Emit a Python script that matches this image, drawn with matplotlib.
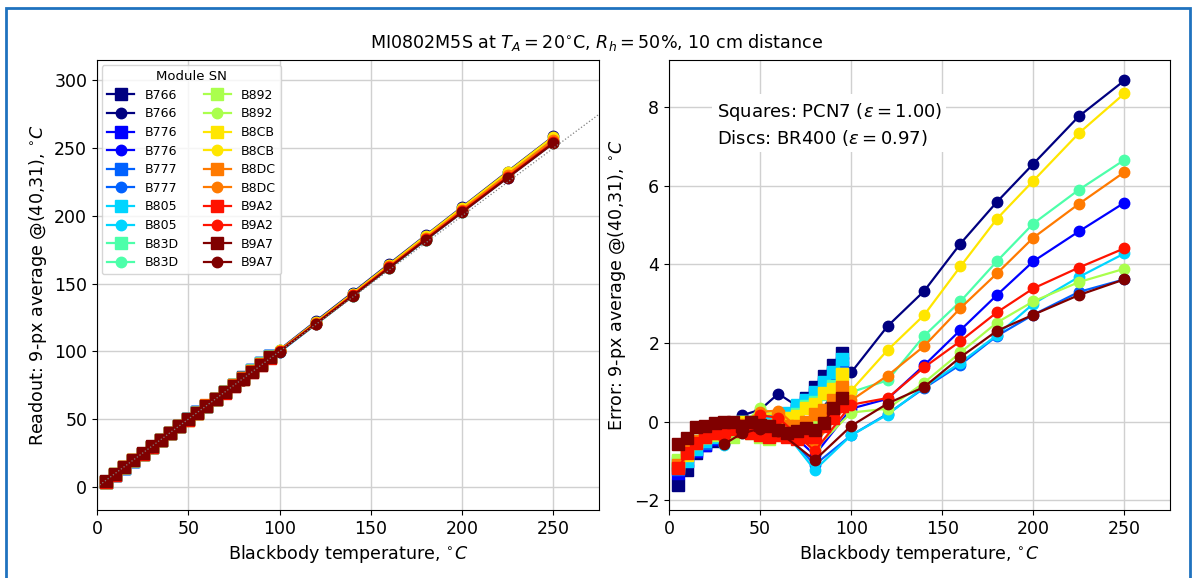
import numpy as np
import matplotlib
matplotlib.use('Agg')
from matplotlib import pyplot as plt
from matplotlib.patches import Rectangle

# module serial numbers
modules = ['B766', 'B776', 'B777', 'B805', 'B83D', 'B892', 'B8CB', 'B8DC', 'B9A2', 'B9A7']

# PCN7 target (squares) temperatures
t_sq = [5, 10, 15, 20, 25, 30, 35, 40, 45, 50, 55, 60, 65, 70, 75, 80, 85, 90, 95]
# BR400 target (discs) temperatures
t_disc = [30, 40, 50, 60, 80, 100, 120, 140, 160, 180, 200, 225, 250]

# errors (readout - blackbody), PCN7
err_sq_B766 = [-1.61, -1.22, -0.80, -0.59, -0.50, -0.35, -0.20, -0.10, 0.00, -0.05, 0.05, 0.10, 0.20, 0.35, 0.60, 0.89, 1.15, 1.45, 1.75]
err_sq_B776 = [-1.30, -1.00, -0.75, -0.60, -0.45, -0.35, -0.20, -0.10, -0.10, -0.15, 0.00, 0.00, 0.10, 0.30, 0.50, 0.70, 0.95, 1.20, 1.50]
err_sq_B777 = [-1.20, -0.90, -0.70, -0.55, -0.40, -0.30, -0.20, -0.10, -0.10, -0.10, 0.00, 0.00, 0.10, 0.30, 0.45, 0.60, 0.85, 1.10, 1.40]
err_sq_B805 = [-1.05, -1.00, -0.70, -0.50, -0.40, -0.30, -0.20, 0.00, -0.10, -0.10, 0.10, 0.05, 0.21, 0.42, 0.55, 0.76, 1.01, 1.27, 1.60]
err_sq_B83D = [-1.00, -0.75, -0.50, -0.40, -0.30, -0.20, -0.10, 0.00, -0.10, -0.20, -0.10, 0.00, 0.10, 0.20, 0.40, 0.50, 0.70, 0.90, 1.20]
err_sq_B892 = [-0.98, -0.70, -0.50, -0.40, -0.35, -0.30, -0.40, -0.20, -0.30, -0.40, -0.45, -0.35, -0.30, -0.20, -0.10, 0.00, 0.30, 0.50, 0.80]
err_sq_B8CB = [-1.15, -0.85, -0.55, -0.40, -0.30, -0.20, -0.15, 0.00, -0.10, -0.15, -0.10, 0.00, 0.10, 0.13, 0.34, 0.46, 0.72, 0.84, 1.22]
err_sq_B8DC = [-1.10, -0.75, -0.50, -0.35, -0.30, -0.20, -0.15, -0.10, -0.20, -0.25, -0.10, 0.13, -0.10, -0.10, 0.00, 0.20, 0.30, 0.55, 0.89]
err_sq_B9A2 = [-1.19, -0.80, -0.55, -0.38, -0.30, -0.25, -0.20, -0.25, -0.30, -0.35, -0.40, -0.35, -0.40, -0.45, -0.40, -0.40, -0.10, 0.10, 0.40]
err_sq_B9A7 = [-0.56, -0.42, -0.13, -0.10, -0.04, 0.00, 0.00, -0.10, 0.00, -0.08, -0.10, -0.21, -0.30, -0.25, -0.17, -0.21, -0.04, 0.34, 0.59]

# errors, BR400
err_disc_B766 = [-0.45, 0.16, 0.30, 0.71, 0.10, 1.25, 2.43, 3.32, 4.53, 5.59, 6.56, 7.77, 8.68]
err_disc_B776 = [-0.50, -0.20, 0.10, 0.00, -0.85, 0.33, 0.58, 1.43, 2.33, 3.22, 4.08, 4.84, 5.57]
err_disc_B777 = [-0.55, -0.25, 0.00, -0.10, -1.10, -0.35, 0.20, 0.85, 1.45, 2.18, 2.72, 3.30, 3.62]
err_disc_B805 = [-0.60, -0.30, 0.00, -0.05, -1.23, -0.35, 0.18, 0.88, 1.50, 2.20, 3.00, 3.68, 4.28]
err_disc_B83D = [-0.40, -0.10, 0.20, 0.20, -0.60, 0.75, 1.05, 2.18, 3.06, 4.08, 5.04, 5.90, 6.66]
err_disc_B892 = [-0.45, -0.10, 0.35, 0.15, -0.70, 0.23, 0.33, 0.99, 1.76, 2.52, 3.06, 3.55, 3.89]
err_disc_B8CB = [-0.40, -0.05, 0.20, 0.20, -0.50, 0.79, 1.82, 2.71, 3.95, 5.16, 6.13, 7.34, 8.35]
err_disc_B8DC = [-0.40, -0.05, 0.25, 0.28, -0.55, 0.54, 1.17, 1.92, 2.89, 3.77, 4.68, 5.54, 6.35]
err_disc_B9A2 = [-0.45, -0.10, 0.16, 0.10, -0.75, 0.43, 0.60, 1.38, 2.05, 2.78, 3.39, 3.92, 4.41]
err_disc_B9A7 = [-0.58, -0.30, -0.18, -0.25, -0.98, -0.11, 0.46, 0.88, 1.64, 2.31, 2.72, 3.22, 3.62]

err_sq = [err_sq_B766, err_sq_B776, err_sq_B777, err_sq_B805, err_sq_B83D,
          err_sq_B892, err_sq_B8CB, err_sq_B8DC, err_sq_B9A2, err_sq_B9A7]
err_disc = [err_disc_B766, err_disc_B776, err_disc_B777, err_disc_B805, err_disc_B83D,
            err_disc_B892, err_disc_B8CB, err_disc_B8DC, err_disc_B9A2, err_disc_B9A7]

fig = plt.figure(figsize=(11.94, 5.78), dpi=100)
ax1 = fig.add_axes([0.0812, 0.1176, 0.4205, 0.7785])
ax2 = fig.add_axes([0.5603, 0.1176, 0.4196, 0.7785])

colors = plt.cm.jet(np.linspace(0, 1, len(modules)))
ts = np.array(t_sq)
td = np.array(t_disc)

for i, sn in enumerate(modules):
    c = colors[i]
    es = np.array(err_sq[i])
    ed = np.array(err_disc[i])
    ax1.plot(ts, ts + es, 's-', color=c, ms=9, lw=1.6, label=sn)
    ax1.plot(td, td + ed, 'o-', color=c, ms=7.5, lw=1.6, label=sn)
    ax2.plot(ts, es, 's-', color=c, ms=9, lw=1.6, label=sn)
    ax2.plot(td, ed, 'o-', color=c, ms=7.5, lw=1.6, label=sn)

ax1.plot([0, 275], [0, 275], ':', color='gray', lw=0.9)

for ax in (ax1, ax2):
    ax.grid(True, color='#d0d0d0', lw=1)
    ax.set_xlim(0, 275)
    ax.set_xticks([0, 50, 100, 150, 200, 250])
    ax.tick_params(labelsize=12.5)
    ax.set_xlabel(r'Blackbody temperature, $^{\circ}C$', fontsize=12.6)
    ax.set_axisbelow(True)

ax1.set_ylim(-17, 315)
ax1.set_yticks([0, 50, 100, 150, 200, 250, 300])
ax1.set_ylabel(r'Readout: 9-px average @(40,31), $^{\circ}C$', fontsize=12.6)
ax1.legend(title='Module SN', ncol=2, loc='upper left', fontsize=9, title_fontsize=9.5,
           handlelength=2.2, labelspacing=0.45, columnspacing=2.0, borderaxespad=0.4)

ax2.set_ylim(-2.25, 9.2)
ax2.set_yticks([-2, 0, 2, 4, 6, 8])
ax2.set_ylabel(r'Error: 9-px average @(40,31), $^{\circ}C$', fontsize=12.6)
ax2.text(0.095, 0.91, 'Squares: PCN7 ($\\varepsilon = 1.00$)\nDiscs: BR400 ($\\varepsilon = 0.97$)',
         transform=ax2.transAxes, fontsize=13, va='top', ha='left', linespacing=1.35,
         bbox=dict(facecolor='white', edgecolor='none', pad=3))

fig.suptitle(r'MI0802M5S at $T_A = 20^{\circ}$C, $R_h = 50\%$, 10 cm distance', fontsize=12.6, y=0.945)

# page frame
fig.patches.append(Rectangle((6 / 1194, -0.02), 1184 / 1194, 1 - 8 / 578 + 0.02,
                             transform=fig.transFigure, fill=False, edgecolor='#1f72bf', lw=2))

fig.savefig('out.png', dpi=100)
